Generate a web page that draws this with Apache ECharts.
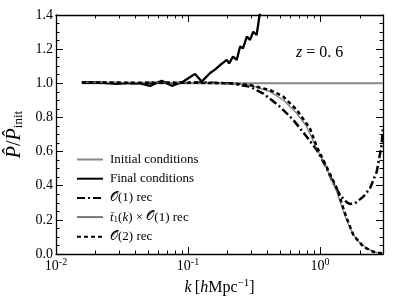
<!DOCTYPE html>
<html>
<head>
<meta charset="utf-8">
<script src="https://cdn.jsdelivr.net/npm/echarts@6/dist/echarts.min.js"></script>
<style>html,body{margin:0;padding:0;background:#fff;}#c{width:399px;height:299px;}</style>
</head>
<body>
<div id="c"></div>
<script>
// ---- data ----
const kInitial = [0.0157, 0.03, 0.1, 0.3, 1.0, 3.0];
const vInitial = [1.0, 1.0, 1.0, 1.0, 1.0, 1.0];

const kFinal = [0.0157, 0.0215, 0.0288, 0.0363, 0.0433, 0.0515, 0.0631, 0.0753, 0.0921, 0.113, 0.127, 0.147, 0.160, 0.175, 0.184, 0.196, 0.205, 0.219, 0.234, 0.248, 0.261, 0.279, 0.295, 0.312, 0.331, 0.347, 0.36];
const vFinal = [1.006, 1.004, 0.996, 1.003, 1.0, 0.985, 1.015, 0.985, 1.01, 1.055, 1.01, 1.06, 1.08, 1.107, 1.12, 1.137, 1.117, 1.156, 1.137, 1.215, 1.205, 1.273, 1.254, 1.302, 1.283, 1.39, 1.45];

const kO1 = [0.0157, 0.025, 0.04, 0.06, 0.09, 0.13, 0.208, 0.295, 0.372, 0.497, 0.628, 0.793, 0.944, 1.124, 1.262, 1.418, 1.593, 1.688, 1.841, 2.128, 2.393, 2.69, 2.93, 3.0];
const vO1 = [1.005, 1.003, 1.0, 1.004, 1.003, 1.005, 1.0, 0.98, 0.94, 0.863, 0.785, 0.687, 0.61, 0.502, 0.414, 0.346, 0.303, 0.293, 0.297, 0.336, 0.385, 0.482, 0.639, 0.75];

const kT1 = [0.0157, 0.05, 0.1, 0.15, 0.208, 0.295, 0.418, 0.527, 0.666, 0.793, 0.916, 1.124, 1.34, 1.503, 1.688, 1.896, 2.258, 2.69, 3.0];
const vT1 = [1.005, 1.003, 1.002, 1.0, 0.998, 0.99, 0.951, 0.902, 0.824, 0.746, 0.639, 0.5, 0.365, 0.248, 0.15, 0.082, 0.033, 0.008, 0.003];

const kO2 = [0.0157, 0.05, 0.1, 0.15, 0.208, 0.295, 0.418, 0.527, 0.666, 0.839, 0.944, 1.124, 1.377, 1.459, 1.593, 1.788, 2.128, 2.535, 2.93, 3.0];
const vO2 = [1.005, 1.003, 1.003, 1.002, 1.0, 0.99, 0.96, 0.922, 0.844, 0.736, 0.629, 0.51, 0.365, 0.297, 0.21, 0.111, 0.043, 0.013, 0.004, 0.003];

const xMajorTicks = [0.01, 0.1, 1];
const xMinorTicks = [0.02,0.03,0.04,0.05,0.06,0.07,0.08,0.09,0.2,0.3,0.4,0.5,0.6,0.7,0.8,0.9,2,3];
const seriesNames = ['Initial conditions', 'Final conditions', 'O1 rec', 't1 O1 rec', 'O2 rec'];
const annotation = ' = 0. 6';

// ---- chart ----
const FONT = '"Liberation Serif", "DejaVu Serif", serif';
const zip = (a, b) => a.map((x, i) => [x, b[i]]);
const chart = echarts.init(document.getElementById('c'), null, {renderer: 'canvas'});

function xAxisBase(pos, major, showLabel) {
  return {
    type: 'log', logBase: 10, min: 0.01, max: 3, position: pos,
    axisLine: {show: major, onZero: false, lineStyle: {color: '#000', width: 1.3}},
    axisTick: {show: true, inside: true, length: major ? 7 : 3.5, customValues: major ? xMajorTicks : xMinorTicks,
               lineStyle: {color: '#000', width: 1}},
    axisLabel: {show: showLabel, customValues: xMajorTicks, margin: 3,
      formatter: v => '{b|10}{s|' + Math.round(Math.log10(v)) + '}',
      rich: {b: {fontFamily: FONT, fontSize: 14, color: '#000', verticalAlign: 'bottom', lineHeight: 16},
             s: {fontFamily: FONT, fontSize: 10, color: '#000', verticalAlign: 'top', lineHeight: 16, padding: [0,0,6,0]}}},
    splitLine: {show: false}, minorTick: {show: false}
  };
}
const xAxes = [
  Object.assign(xAxisBase('bottom', true, true), {
    name: '{i|k} {n|[}{i|h}{n|Mpc}{s|−1}{n|]}', nameLocation: 'middle', nameGap: 22,
    nameTextStyle: {rich: {
      i: {fontFamily: FONT, fontStyle: 'italic', fontSize: 16, color: '#000', verticalAlign: 'bottom', lineHeight: 18},
      n: {fontFamily: FONT, fontSize: 16, color: '#000', verticalAlign: 'bottom', lineHeight: 18},
      s: {fontFamily: FONT, fontSize: 11, color: '#000', verticalAlign: 'top', lineHeight: 18, padding: [0,0,6,0]}}}
  }),
  xAxisBase('bottom', false, false),
  xAxisBase('top', true, false),
  xAxisBase('top', false, false)
];
function yAxisBase(pos, showLabel) {
  return {
    type: 'value', min: 0, max: 1.4, interval: 0.2, position: pos,
    axisLine: {show: true, onZero: false, lineStyle: {color: '#000', width: 1.3}},
    axisTick: {show: true, inside: true, length: 7, lineStyle: {color: '#000', width: 1}},
    minorTick: {show: true, splitNumber: 4, length: 3.5, lineStyle: {color: '#000', width: 1}},
    axisLabel: {show: showLabel, fontFamily: FONT, fontSize: 14, color: '#000', margin: 3,
                formatter: v => v.toFixed(1)},
    splitLine: {show: false}, minorSplitLine: {show: false}
  };
}
const yAxes = [
  Object.assign(yAxisBase('left', true), {
    name: '{p|P̂}{n|/}{p|P̂}{s|init}', nameLocation: 'middle', nameGap: 24, nameRotate: 90,
    nameTextStyle: {rich: {
      p: {fontFamily: FONT, fontStyle: 'italic', fontSize: 20, color: '#000', verticalAlign: 'bottom', lineHeight: 22},
      n: {fontFamily: FONT, fontSize: 20, color: '#000', verticalAlign: 'bottom', lineHeight: 22},
      s: {fontFamily: FONT, fontSize: 13, color: '#000', verticalAlign: 'bottom', lineHeight: 22, padding: [7,0,0,0]}}}
  }),
  yAxisBase('right', false)
];

const legendText = {
  'Initial conditions': '{n|Initial conditions}',
  'Final conditions': '{n|Final conditions}',
  'O1 rec': '{o|𝒪}{n|(1) rec}',
  't1 O1 rec': '{i|t̄}{s|1}{n|(}{i|k}{n|) × }{o|𝒪}{n|(1) rec}',
  'O2 rec': '{o|𝒪}{n|(2) rec}'
};

function lineSeries(name, k, v, color, width, type) {
  return {
    name, type: 'line', xAxisIndex: 0, yAxisIndex: 0, data: zip(k, v),
    symbol: 'none', showSymbol: false, clip: true, smooth: false,
    lineStyle: {color, width, type: type || 'solid'}, itemStyle: {color},
    emphasis: {disabled: true}, animation: false
  };
}

chart.setOption({
  animation: false,
  backgroundColor: '#fff',
  grid: {left: 56, right: 16, top: 15, bottom: 45, containLabel: false, outerBoundsMode: 'none'},
  xAxis: xAxes,
  yAxis: yAxes,
  legend: {
    orient: 'vertical', left: 71, top: 148, itemWidth: 26, itemHeight: 14, itemGap: 6.2,
    data: seriesNames, selectedMode: false,
    itemStyle: {opacity: 0},
    formatter: n => legendText[n],
    textStyle: {padding: [0, 0, 0, 2], rich: {
      n: {fontFamily: FONT, fontSize: 13, color: '#000', lineHeight: 14},
      i: {fontFamily: FONT, fontStyle: 'italic', fontSize: 13, color: '#000', lineHeight: 14},
      o: {fontFamily: '"DejaVu Serif", "DejaVu Sans", serif', fontSize: 13, color: '#000', lineHeight: 14},
      s: {fontFamily: FONT, fontSize: 9, color: '#000', lineHeight: 14, verticalAlign: 'bottom'}}}
  },
  graphic: [{
    type: 'text', left: 296, top: 45,
    style: {text: '{i|z}{n|' + annotation + '}',
      rich: {i: {fontFamily: FONT, fontStyle: 'italic', fontSize: 16, fill: '#000'},
             n: {fontFamily: FONT, fontSize: 16, fill: '#000'}}}
  }],
  series: [
    lineSeries(seriesNames[0], kInitial, vInitial, '#888888', 2),
    lineSeries(seriesNames[1], kFinal, vFinal, '#000000', 2.3),
    lineSeries(seriesNames[2], kO1, vO1, '#000000', 2.5, [8, 3, 2, 3]),
    lineSeries(seriesNames[3], kT1, vT1, '#777777', 1.2),
    lineSeries(seriesNames[4], kO2, vO2, '#000000', 2.5, [4, 3])
  ]
});
</script>
</body>
</html>
